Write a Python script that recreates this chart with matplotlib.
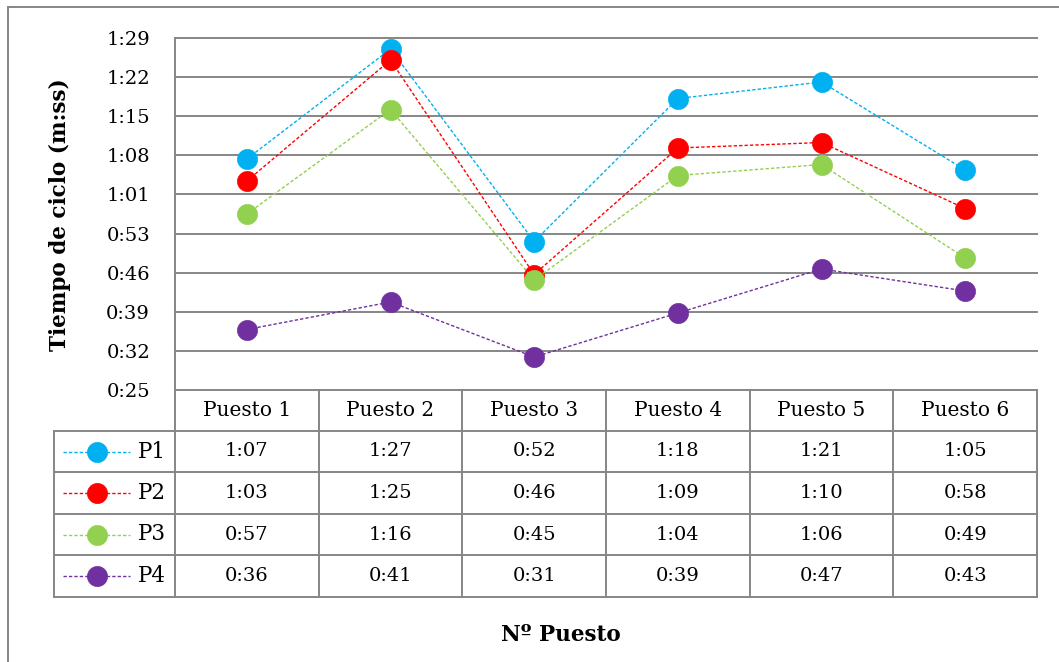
import matplotlib
matplotlib.use("Agg")
import matplotlib.pyplot as plt
from matplotlib.lines import Line2D
from matplotlib.transforms import blended_transform_factory

# ---- data -------------------------------------------------------------
puestos = ["Puesto 1", "Puesto 2", "Puesto 3", "Puesto 4", "Puesto 5", "Puesto 6"]
series_names = ["P1", "P2", "P3", "P4"]
p1 = ["1:07", "1:27", "0:52", "1:18", "1:21", "1:05"]
p2 = ["1:03", "1:25", "0:46", "1:09", "1:10", "0:58"]
p3 = ["0:57", "1:16", "0:45", "1:04", "1:06", "0:49"]
p4 = ["0:36", "0:41", "0:31", "0:39", "0:47", "0:43"]
series_values = [p1, p2, p3, p4]
series_colors = ["#00B0F0", "#FF0000", "#92D050", "#7030A0"]

y_min_s, y_max_s, n_div = 25, 89, 9


def to_seconds(txt):
    m, s = txt.split(":")
    return int(m) * 60 + int(s)


def fmt_mss(sec):
    sec = int(round(sec))
    return f"{sec // 60}:{sec % 60:02d}"


# ---- figure ------------------------------------------------------------
W, H = 1059, 662
plt.rcParams["font.family"] = ["DejaVu Serif"]
fig = plt.figure(figsize=(W / 100, H / 100), dpi=100)

def fx(px):
    return px / W

def fy(py):
    return 1 - py / H

left_px, right_px, top_px, bottom_px = 175, 1037, 38, 390
ax = fig.add_axes([fx(left_px), fy(bottom_px), (right_px - left_px) / W,
                   (bottom_px - top_px) / H])

grid_col = "#868686"
text_col = "#000000"
fs = 14

n = len(puestos)
x_pos = [i + 0.5 for i in range(n)]
ax.set_xlim(0, n)
ax.set_ylim(y_min_s, y_max_s)
ax.set_autoscale_on(False)

ticks = [y_min_s + (y_max_s - y_min_s) * k / n_div for k in range(n_div + 1)]
ax.set_yticks(ticks)
ax.set_yticklabels([fmt_mss(t) for t in ticks], fontsize=fs)
ax.tick_params(axis="y", length=0, pad=18)
ax.set_xticks([])
for side in ["top", "right", "bottom", "left"]:
    ax.spines[side].set_visible(False)

# horizontal gridlines and left edge of the plot area
grid_tr = blended_transform_factory(fig.transFigure, ax.transData)
for t in ticks:
    ax.add_line(Line2D([fx(left_px), fx(right_px)], [t, t], transform=grid_tr,
                       color=grid_col, lw=1.4, zorder=1, clip_on=False))
ax.add_line(Line2D([fx(left_px), fx(left_px)], [y_min_s, y_max_s], transform=grid_tr,
                   color=grid_col, lw=1.4, zorder=1, clip_on=False))

dash = (0, (2.4, 1.5))
for vals, col in zip(series_values, series_colors):
    secs = [to_seconds(v) for v in vals]
    ax.plot(x_pos, secs, color=col, lw=1.0, linestyle=dash, marker="o",
            markersize=14.5, markeredgecolor=col, markeredgewidth=0.5, zorder=3,
            clip_on=False)

# ---- data table below the plot area ------------------------------------
tr = blended_transform_factory(ax.transData, fig.transFigure)
col_w = (right_px - left_px) / n
legend_left = (54 - left_px) / col_w

header_top, header_bot = 390, 431
row_edges = [431, 472, 514, 555, 597]

def hline(x0, x1, ypx):
    fig.add_artist(Line2D([x0, x1], [fy(ypx), fy(ypx)], transform=tr,
                          color=grid_col, lw=1.4))

def vline(x, y0px, y1px):
    fig.add_artist(Line2D([x, x], [fy(y0px), fy(y1px)], transform=tr,
                          color=grid_col, lw=1.4))

# header row
for i in range(n + 1):
    vline(i, header_top, row_edges[-1])
for i, name in enumerate(puestos):
    fig.text(x_pos[i], fy((header_top + header_bot) / 2), name, transform=tr,
             ha="center", va="center", fontsize=fs + 0.5, color=text_col)

# body rows
for ypx in row_edges:
    hline(legend_left, n, ypx)
vline(legend_left, row_edges[0], row_edges[-1])

key_l = (63 - left_px) / col_w
key_r = (130 - left_px) / col_w
key_m = (97 - left_px) / col_w
lab_x = (138 - left_px) / col_w
for r, (name, vals, col) in enumerate(zip(series_names, series_values, series_colors)):
    yc = fy((row_edges[r] + row_edges[r + 1]) / 2)
    fig.add_artist(Line2D([key_l, key_r], [yc, yc], transform=tr, color=col,
                          lw=1.0, linestyle=dash))
    fig.add_artist(Line2D([key_m], [yc], transform=tr, color=col, marker="o",
                          markersize=14.5, markeredgecolor=col, markeredgewidth=0.5,
                          linestyle="none"))
    fig.text(lab_x, yc, name, transform=tr, ha="left", va="center",
             fontsize=fs + 1.5, color=text_col)
    for i, v in enumerate(vals):
        fig.text(x_pos[i], yc, v, transform=tr, ha="center", va="center",
                 fontsize=fs, color=text_col)

# axis titles
fig.text(fx(60), fy(215), "Tiempo de ciclo (m:ss)", rotation=90, ha="center",
         va="center", fontsize=15.5, fontweight="bold", color=text_col)
fig.text(fx(561), fy(635), "Nº Puesto", ha="center", va="center",
         fontsize=15.5, fontweight="bold", color=text_col)

# chart frame (top and left edges visible)
fig.add_artist(Line2D([fx(8), 1.0], [fy(7), fy(7)], transform=fig.transFigure,
                      color=grid_col, lw=1.4))
fig.add_artist(Line2D([fx(8), fx(8)], [fy(7), 0.0], transform=fig.transFigure,
                      color=grid_col, lw=1.4))

fig.savefig("out.png", dpi=100, facecolor="white")
